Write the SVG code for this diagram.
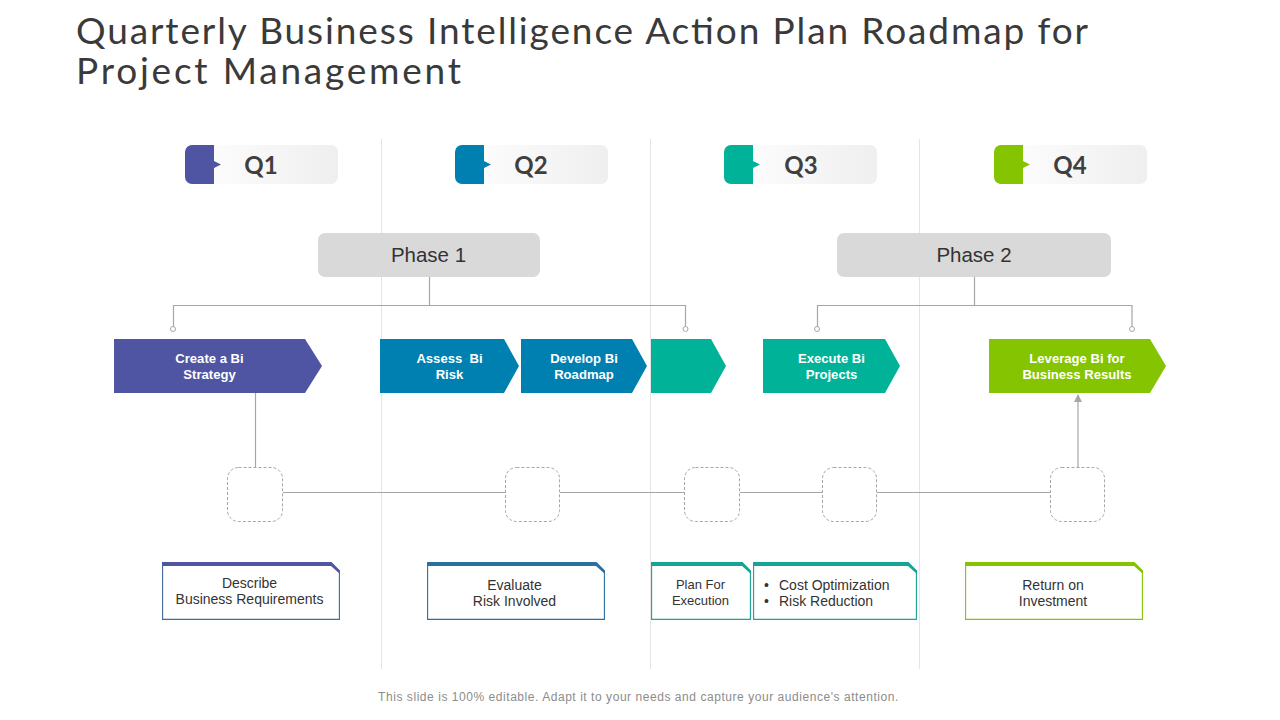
<svg xmlns="http://www.w3.org/2000/svg" width="1280" height="720" viewBox="0 0 1280 720">
<style>
text{font-family:"Liberation Sans",Arial,sans-serif}
.title{font-family:"Lato","Noto Sans",sans-serif;font-size:37px;font-weight:400;fill:#3a3a3a}
.q{font-family:"Lato","Noto Sans",sans-serif;font-size:24px;font-weight:700;fill:#3f3f3f;text-anchor:middle}
.ph{font-size:20.500px;fill:#333;text-anchor:middle}
.ar{font-size:13.100px;font-weight:700;fill:#fff;text-anchor:middle}
.box{font-size:14px;fill:#333;text-anchor:middle}
.boxl{font-size:14px;fill:#333}
.small{font-size:13px;fill:#333;text-anchor:middle}
.grid{stroke:#e4e4e4;stroke-width:1;fill:none}
.conn{stroke:#a6a6a6;stroke-width:1.2;fill:none}
.dot{stroke:#a6a6a6;stroke-width:1;fill:#fff}
.dash{fill:#fff;stroke:#a6a6a6;stroke-width:1;stroke-dasharray:3 2}
.phase{fill:#d9d9d9}
.note{fill:#fff;stroke-width:1.100}
</style>
<defs>
<linearGradient id="g" x1="0" x2="1" y1="0" y2="0"><stop offset="0" stop-color="#fff"/><stop offset="1" stop-color="#efefef"/></linearGradient>
<marker id="arr" markerWidth="8" markerHeight="8" refX="7" refY="4" orient="auto" markerUnits="userSpaceOnUse"><path d="M0 0L8 4L0 8z" fill="#a6a6a6"/></marker>
</defs>
<text class="title" x="76" y="44" textLength="1012" lengthAdjust="spacing">Quarterly Business Intelligence Action Plan Roadmap for</text>
<text class="title" x="76" y="84" textLength="385" lengthAdjust="spacing">Project Management</text>
<g id="grid">
<path class="grid" d="M381.500 139V669M650.500 139V669M919.500 139V669"/>
</g>
<g id="connectors">
<path class="conn" d="M429.500 277V305.500M173.500 327V305.500H685.500V327"/>
<path class="conn" d="M974.500 277V305.500M817.500 327V305.500H1132V327"/>
<circle class="dot" cx="173" cy="329" r="2.500"/><circle class="dot" cx="685.500" cy="329" r="2.500"/>
<circle class="dot" cx="817" cy="329" r="2.500"/><circle class="dot" cx="1132" cy="329" r="2.500"/>
<path class="conn" d="M255.500 393V467"/>
<path class="conn" d="M283 492.500H505M560 492.500H684M740 492.500H822M877 492.500H1050"/>
<path class="conn" d="M1078 467V395" marker-end="url(#arr)"/>
</g>
<g id="q1"><rect x="185" y="145" width="153" height="39" rx="7" fill="url(#g)"/><path d="M214 145H192a7 7 0 0 0-7 7v25a7 7 0 0 0 7 7h22v-16l7-3.500-7-3.500z" fill="#4f55a3"/><text class="q" x="261" y="174">Q1</text></g>
<g id="q2"><rect x="455" y="145" width="153" height="39" rx="7" fill="url(#g)"/><path d="M484 145H462a7 7 0 0 0-7 7v25a7 7 0 0 0 7 7h22v-16l7-3.500-7-3.500z" fill="#0080b1"/><text class="q" x="531" y="174">Q2</text></g>
<g id="q3"><rect x="724" y="145" width="153" height="39" rx="7" fill="url(#g)"/><path d="M753 145H731a7 7 0 0 0-7 7v25a7 7 0 0 0 7 7h22v-16l7-3.500-7-3.500z" fill="#00b398"/><text class="q" x="801" y="174">Q3</text></g>
<g id="q4"><rect x="994" y="145" width="153" height="39" rx="7" fill="url(#g)"/><path d="M1023 145H1001a7 7 0 0 0-7 7v25a7 7 0 0 0 7 7h22v-16l7-3.500-7-3.500z" fill="#84c400"/><text class="q" x="1070" y="174">Q4</text></g>
<g id="phase1"><rect class="phase" x="318" y="233" width="222" height="44" rx="7"/><text class="ph" x="428.500" y="262">Phase 1</text></g>
<g id="phase2"><rect class="phase" x="837" y="233" width="274" height="44" rx="7"/><text class="ph" x="974" y="262">Phase 2</text></g>
<g id="a1"><path d="M114 339H305L322 366L305 393H114z" fill="#4f55a3"/><text class="ar" x="209.500" y="363">Create a Bi</text><text class="ar" x="209.500" y="379">Strategy</text></g>
<g id="a2"><path d="M380 339H504L519 366L504 393H380z" fill="#0080b1"/><text class="ar" x="449.500" y="363" xml:space="preserve">Assess  Bi</text><text class="ar" x="449.500" y="379">Risk</text></g>
<g id="a3"><path d="M521 339H632L647 366L632 393H521z" fill="#0080b1"/><text class="ar" x="584" y="363">Develop Bi</text><text class="ar" x="584" y="379">Roadmap</text></g>
<g id="a4"><path d="M651 339H711L726 366L711 393H651z" fill="#00b398"/></g>
<g id="a5"><path d="M763 339H885L900 366L885 393H763z" fill="#00b398"/><text class="ar" x="831.500" y="363">Execute Bi</text><text class="ar" x="831.500" y="379">Projects</text></g>
<g id="a6"><path d="M989 339H1150L1166 366L1150 393H989z" fill="#84c400"/><text class="ar" x="1077" y="363">Leverage Bi for</text><text class="ar" x="1077" y="379" xml:space="preserve" word-spacing="-1.800">Business  Results</text></g>
<g id="s1"><rect class="dash" x="227.500" y="467.500" width="55" height="54" rx="11"/></g>
<g id="s2"><rect class="dash" x="505.500" y="467.500" width="54" height="54" rx="11"/></g>
<g id="s3"><rect class="dash" x="684.500" y="467.500" width="55" height="54" rx="11"/></g>
<g id="s4"><rect class="dash" x="822.500" y="467.500" width="54" height="54" rx="11"/></g>
<g id="s5"><rect class="dash" x="1050.500" y="467.500" width="54" height="54" rx="11"/></g>
<g id="n1"><path class="note" d="M162.600 563.500H331L339.400 572V619.400H162.600z" stroke="#3f6a9a"/><path d="M162 562H331.500L340 570.500V574L331 566H162z" fill="#4f55a3"/><text class="box" x="249.500" y="588">Describe</text><text class="box" x="249.500" y="604">Business Requirements</text></g>
<g id="n2"><path class="note" d="M427.600 563.500H596L604.400 572V619.400H427.600z" stroke="#2a6f9f"/><path d="M427 562H596.500L605 570.500V574L596 566H427z" fill="#2a6f9f"/><text class="box" x="514.500" y="590">Evaluate</text><text class="box" x="514.500" y="606">Risk Involved</text></g>
<g id="n3"><path class="note" d="M651.600 563.500H742L750.400 572V619.400H651.600z" stroke="#14a594"/><path d="M651 562H742.500L751 570.500V574L742 566H651z" fill="#14a594"/><text class="small" x="700.500" y="589">Plan For</text><text class="small" x="700.500" y="605">Execution</text></g>
<g id="n4"><path class="note" d="M753.600 563.500H908L916.400 572V619.400H753.600z" stroke="#14a594"/><path d="M753 562H908.500L917 570.500V574L908 566H753z" fill="#14a594"/><text class="boxl" x="764" y="590">•</text><text class="boxl" x="779" y="590">Cost Optimization</text><text class="boxl" x="764" y="606">•</text><text class="boxl" x="779" y="606">Risk Reduction</text></g>
<g id="n5"><path class="note" d="M965.600 563.500H1134L1142.400 572V619.400H965.600z" stroke="#84c400"/><path d="M965 562H1134.500L1143 570.500V574L1134 566H965z" fill="#84c400"/><text class="box" x="1053" y="590">Return on</text><text class="box" x="1053" y="606">Investment</text></g>
<text x="638.500" y="701" font-size="12" fill="#8c8c8c" text-anchor="middle" letter-spacing=".55">This slide is 100% editable. Adapt it to your needs and capture your audience's attention.</text>
</svg>
